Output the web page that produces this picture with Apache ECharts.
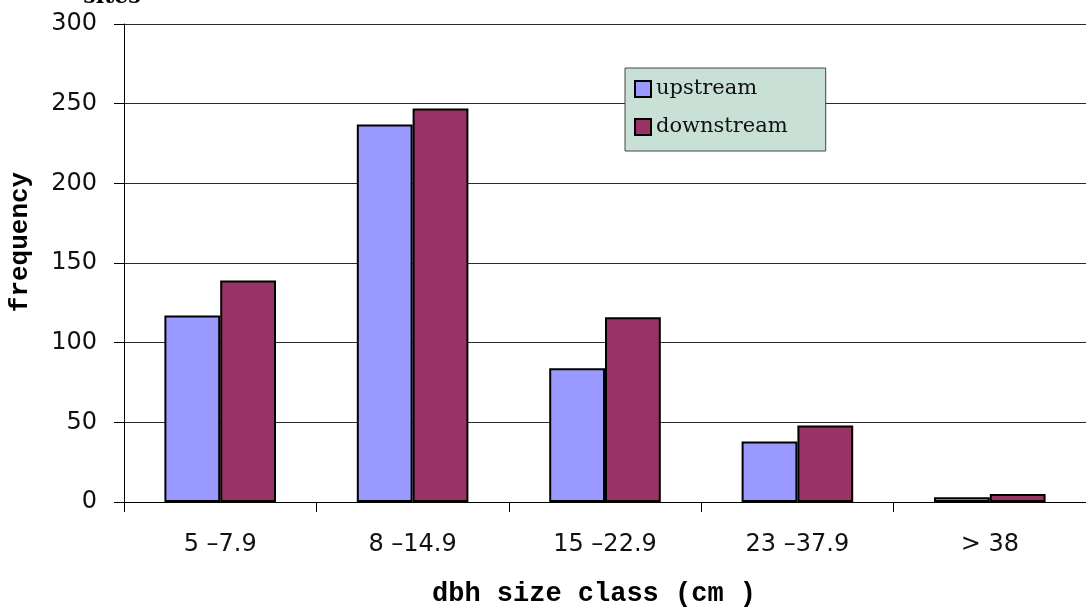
<!DOCTYPE html>
<html><head><meta charset="utf-8">
<script src="https://cdn.jsdelivr.net/npm/echarts@6/dist/echarts.min.js"></script>
<style>html,body{margin:0;padding:0;background:#fff}#c{width:1086px;height:612px}</style>
</head><body><div id="c"></div>
<script>
const categories = ['5 \u20137.9', '8 \u201314.9', '15 \u201322.9', '23 \u201337.9', '> 38'];
const upstream = [117, 237, 84, 38, 3];
const downstream = [139, 247, 116, 48, 5];
const yTicks = [0, 50, 100, 150, 200, 250, 300];

const chart = echarts.init(document.getElementById('c'), null, {renderer: 'canvas'});
chart.setOption({
  animation: false,
  backgroundColor: '#ffffff',
  grid: {left: 124, top: 24, width: 965, height: 478, containLabel: false},
  legend: {
    orient: 'vertical', left: 625, top: 68,
    backgroundColor: '#c8e0d6', borderColor: '#444', borderWidth: 1,
    padding: [10, 38, 13, 9], itemGap: 16, itemWidth: 16, itemHeight: 16,
    icon: 'rect',
    textStyle: {fontFamily: 'DejaVu Serif', fontSize: 21, color: '#111', lineHeight: 22},
    data: ['upstream', 'downstream']
  },
  xAxis: {
    type: 'category', data: categories,
    axisLine: {lineStyle: {color: '#000', width: 1}},
    axisTick: {show: true, length: 10, alignWithLabel: false, lineStyle: {color: '#000'}},
    axisLabel: {fontFamily: 'DejaVu Sans', fontSize: 24, color: '#111', margin: 31}
  },
  yAxis: {
    type: 'value', min: 0, max: 300, interval: 50,
    axisLine: {show: true, lineStyle: {color: '#000', width: 1}},
    axisTick: {show: true, length: 10, lineStyle: {color: '#000'}},
    axisLabel: {fontFamily: 'DejaVu Sans', fontSize: 24, color: '#111', margin: 27,
      formatter: v => yTicks.includes(v) ? String(v) : ''},
    splitLine: {show: true, lineStyle: {color: '#2a2a2a', width: 1}}
  },
  series: [
    {name: 'upstream', type: 'bar', data: upstream, barGap: '0%', barCategoryGap: '42%',
     itemStyle: {color: '#9999ff', borderColor: '#000', borderWidth: 2}},
    {name: 'downstream', type: 'bar', data: downstream, barGap: '0%', barCategoryGap: '42%',
     itemStyle: {color: '#993366', borderColor: '#000', borderWidth: 2}}
  ],
  graphic: [
    {type: 'text', x: 112, y: -3, style: {text: 'sites', font: 'bold 22px "DejaVu Serif"', fill: '#000', align: 'center', verticalAlign: 'middle'}},
    {type: 'text', x: 20, y: 242, rotation: Math.PI / 2,
     style: {text: 'frequency', font: 'bold 26px "Liberation Mono"', fill: '#000', align: 'center', verticalAlign: 'middle'}},
    {type: 'text', x: 594, y: 594,
     style: {text: 'dbh size class (cm )', font: 'bold 27px "Liberation Mono"', fill: '#000', align: 'center', verticalAlign: 'middle'}}
  ]
});
</script></body></html>
